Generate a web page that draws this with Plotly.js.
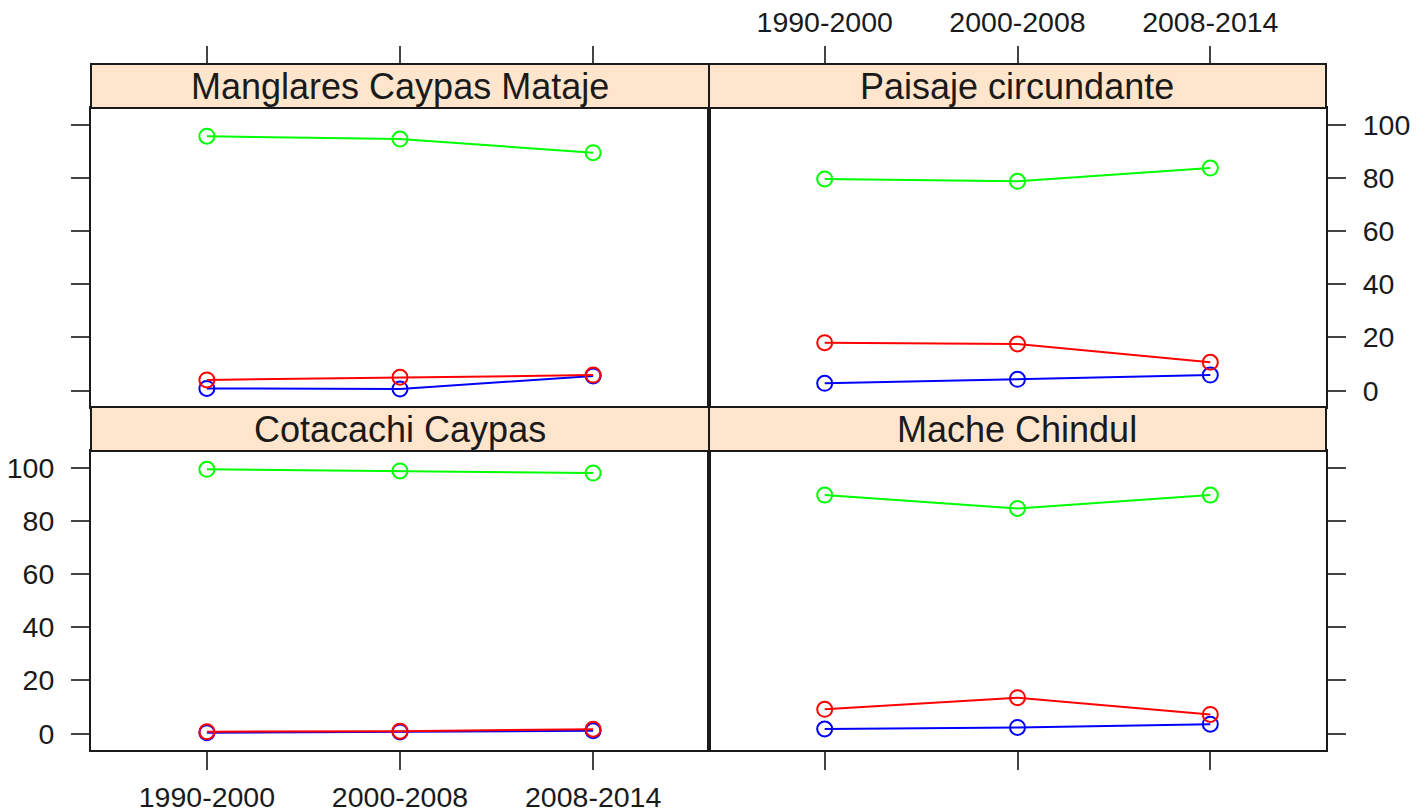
<!DOCTYPE html>
<html>
<head>
<meta charset="utf-8">
<script src="https://cdn.plot.ly/plotly-3.0.1.min.js"></script>
<style>html,body{margin:0;padding:0;background:#fff;}#chart{width:1426px;height:812px;}</style>
</head>
<body>
<div id="chart"></div>
<script>
// ---- data ----
const periods = ["1990-2000", "2000-2008", "2008-2014"];
const panels = ["Manglares Caypas Mataje", "Paisaje circundante", "Cotacachi Caypas", "Mache Chindul"];
const seriesNames = ["Regeneración", "Deforestación", "Bosque"];
const seriesColors = ["#0000FF", "#FF0000", "#00FF00"];
const manglaresBlue = [0.8, 0.6, 5.5];
const manglaresRed = [4.0, 5.0, 5.8];
const manglaresGreen = [95.7, 94.6, 89.5];
const paisajeBlue = [2.7, 4.2, 5.8];
const paisajeRed = [18.0, 17.5, 10.6];
const paisajeGreen = [79.6, 78.7, 83.7];
const cotacachiBlue = [0.3, 0.6, 1.0];
const cotacachiRed = [0.7, 0.9, 1.6];
const cotacachiGreen = [99.4, 98.8, 98.0];
const macheBlue = [1.7, 2.3, 3.5];
const macheRed = [9.1, 13.5, 7.2];
const macheGreen = [89.7, 84.7, 89.7];
const yTicks = [0, 20, 40, 60, 80, 100];

const panelData = [
  [manglaresBlue, manglaresRed, manglaresGreen],
  [paisajeBlue, paisajeRed, paisajeGreen],
  [cotacachiBlue, cotacachiRed, cotacachiGreen],
  [macheBlue, macheRed, macheGreen]
];

// ---- layout geometry (pixels) ----
const W = 1426, H = 812;
const colX = [[91, 709], [709, 1326]];
const rowY = [[108, 407], [451, 750]];      // plot areas (top, bottom)
const stripY = [[64, 108], [407, 451]];
const px = v => v / W;
const py = v => 1 - v / H;

const FONT = "Liberation Sans, Arial, sans-serif";
const xRange = [-0.6, 2.6];
const yRange = [-6.2, 106.3];

const traces = [];
panelData.forEach((series, p) => {
  const ax = p + 1;
  series.forEach((vals, s) => {
    traces.push({
      type: "scatter", mode: "lines+markers",
      x: periods, y: vals, name: seriesNames[s],
      xaxis: "x" + ax, yaxis: "y" + ax,
      line: {color: seriesColors[s], width: 2},
      marker: {symbol: "circle-open", size: 15, color: seriesColors[s], line: {width: 2, color: seriesColors[s]}},
      showlegend: false, hoverinfo: "x+y"
    });
  });
});
// carriers for top axes above the strips
traces.push({type: "scatter", mode: "markers", x: periods, y: [null, null, null], xaxis: "x5", yaxis: "y1", showlegend: false, hoverinfo: "skip"});
traces.push({type: "scatter", mode: "markers", x: periods, y: [null, null, null], xaxis: "x6", yaxis: "y2", showlegend: false, hoverinfo: "skip"});

const tickFont = {family: FONT, size: 28.5, color: "#1a1a1a"};
function xAx(col, row, opts) {
  return Object.assign({
    domain: [px(colX[col][0]), px(colX[col][1])],
    type: "category", categoryarray: periods, range: xRange,
    showline: true, mirror: true, linecolor: "#1a1a1a", linewidth: 2,
    showgrid: false, zeroline: false, ticks: "", showticklabels: false,
    tickfont: tickFont, fixedrange: true
  }, opts);
}
function yAx(col, row, opts) {
  return Object.assign({
    domain: [py(rowY[row][1]), py(rowY[row][0])],
    range: yRange, tickvals: yTicks,
    showline: true, mirror: true, linecolor: "#1a1a1a", linewidth: 2,
    showgrid: false, zeroline: false,
    ticks: "outside", ticklen: 18, tickwidth: 2, tickcolor: "#444",
    showticklabels: false, tickfont: tickFont, ticklabelstandoff: 11, fixedrange: true
  }, opts);
}
const xTickOpts = {ticks: "outside", ticklen: 18, tickwidth: 2, tickcolor: "#444", ticklabelstandoff: 3};

const layout = {
  width: W, height: H, autosize: false,
  margin: {l: 0, r: 0, t: 0, b: 0},
  paper_bgcolor: "#ffffff", plot_bgcolor: "#ffffff",
  font: {family: FONT, color: "#1a1a1a"},
  showlegend: false,
  xaxis: xAx(0, 0, {anchor: "y"}),
  yaxis: yAx(0, 0, {anchor: "x", side: "left"}),
  xaxis2: xAx(1, 0, {anchor: "y2"}),
  yaxis2: yAx(1, 0, {anchor: "x2", side: "right", showticklabels: true}),
  xaxis3: xAx(0, 1, Object.assign({anchor: "y3", side: "bottom", showticklabels: true}, xTickOpts)),
  yaxis3: yAx(0, 1, {anchor: "x3", side: "left", showticklabels: true}),
  xaxis4: xAx(1, 1, Object.assign({anchor: "y4", side: "bottom"}, xTickOpts)),
  yaxis4: yAx(1, 1, {anchor: "x4", side: "right"}),
  xaxis5: Object.assign(xAx(0, 0, {anchor: "free", overlaying: "x", position: py(stripY[0][0]), side: "top", showline: false}), xTickOpts),
  xaxis6: Object.assign(xAx(1, 0, {anchor: "free", overlaying: "x2", position: py(stripY[0][0]), side: "top", showline: false, showticklabels: true}), xTickOpts),
  shapes: [],
  annotations: []
};

panels.forEach((name, p) => {
  const col = p % 2, row = Math.floor(p / 2);
  layout.shapes.push({
    type: "rect", xref: "paper", yref: "paper",
    x0: px(colX[col][0]), x1: px(colX[col][1]),
    y0: py(stripY[row][1]), y1: py(stripY[row][0]),
    fillcolor: "#FFE5CC", line: {color: "#1a1a1a", width: 2}, layer: "above"
  });
  layout.annotations.push({
    xref: "paper", yref: "paper",
    x: px((colX[col][0] + colX[col][1]) / 2),
    y: py((stripY[row][0] + stripY[row][1]) / 2),
    xanchor: "center", yanchor: "middle", showarrow: false,
    text: name, font: {family: FONT, size: 36, color: "#1a1a1a"}
  });
});

Plotly.newPlot("chart", traces, layout, {displayModeBar: false, staticPlot: true});
</script>
</body>
</html>
